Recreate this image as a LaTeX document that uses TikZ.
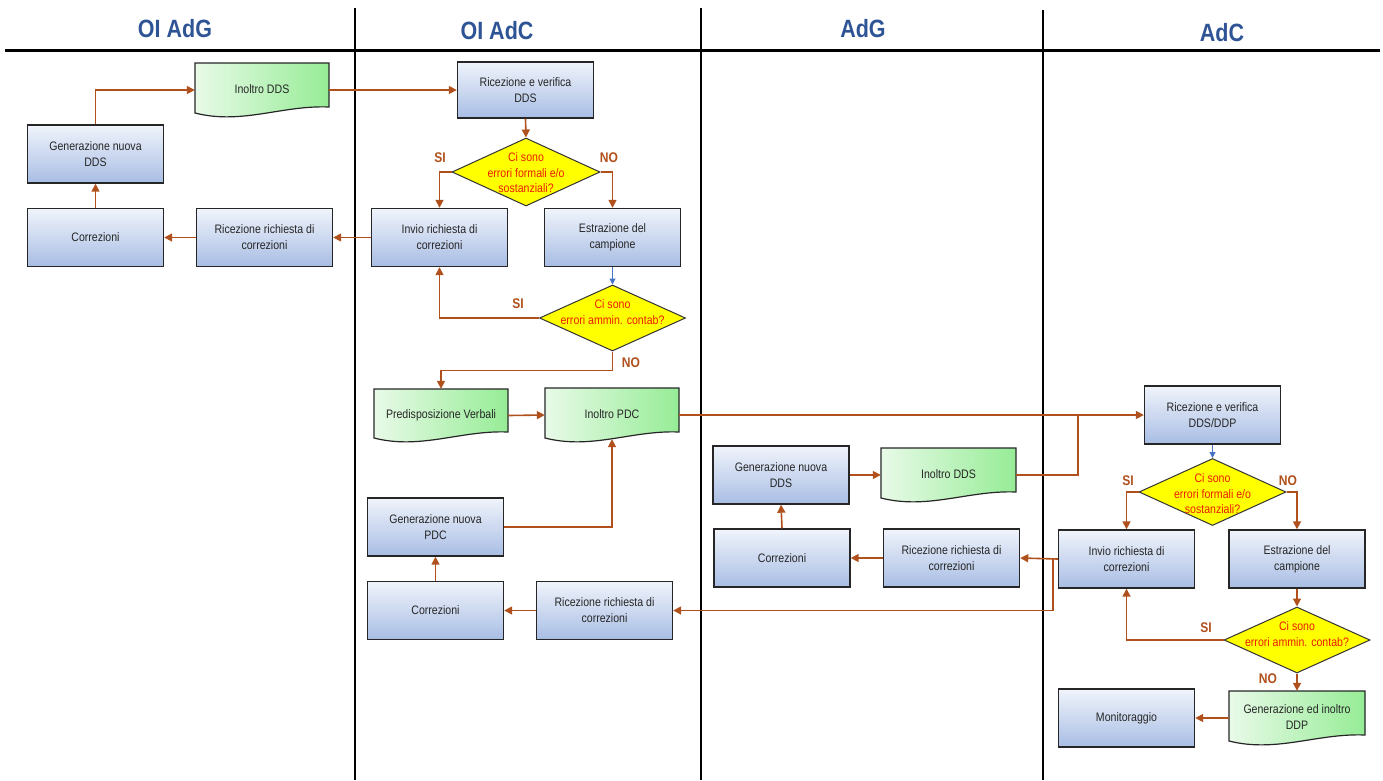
\documentclass[tikz,border=0pt]{standalone}
\usepackage{fontspec}
\setmainfont{Liberation Sans}[FakeStretch=0.86]
\usetikzlibrary{arrows.meta,shapes.geometric,calc}
\definecolor{conn}{RGB}{176,80,28}
\definecolor{ttl}{RGB}{47,84,150}
\definecolor{qtxt}{RGB}{235,30,0}
\definecolor{boxtop}{RGB}{240,244,251}
\definecolor{boxbot}{RGB}{168,189,228}
\definecolor{docl}{RGB}{232,250,232}
\definecolor{docr}{RGB}{150,236,150}
\definecolor{arrblue}{RGB}{68,114,196}
\definecolor{ylw}{RGB}{255,255,0}
\tikzset{
 lane/.style={draw=black, line width=2.2pt},
 hline/.style={draw=black, line width=3pt},
 ttl/.style={font=\fontsize{25}{30}\selectfont\bfseries, text=ttl},
 procbox/.style={rectangle, draw=black!85, line width=1.4pt, top color=boxtop, bottom color=boxbot,
   minimum width=136pt, minimum height=58pt, inner sep=0pt, align=center,
   font=\fontsize{12.3}{16}\selectfont, text=black!85},
 docfill/.style={draw=black!85, line width=1.2pt, left color=docl, right color=docr},
 docn/.style={rectangle, inner sep=0pt, align=center, font=\fontsize{12.3}{16}\selectfont, text=black!85},
 dia/.style={diamond, draw=black!80, line width=1pt, fill=ylw, inner sep=0pt},
 qtext/.style={align=center, font=\fontsize{12.3}{15.5}\selectfont, text=qtxt},
 yn/.style={font=\fontsize{14}{16}\selectfont\bfseries, text=conn},
 conn/.style={draw=conn, line width=1.6pt, -{Triangle[length=8pt,width=8pt]}},
 connl/.style={draw=conn, line width=1.6pt},
 connb/.style={draw=arrblue, line width=1pt, -{Triangle[length=6pt,width=6pt]}},
}
\newcommand\docnode[6]{%
 \path[docfill] (#2,#3) -- (#4,#3) -- (#4,#5) .. controls ({#4-0.35*(#4-#2)},{#5-2}) and ({#2+0.35*(#4-#2)},{#5+18}) .. (#2,{#5+6}) -- cycle;
 \node[docn, minimum width={(#4-#2)*1pt}, minimum height={(#5-#3+10)*1pt}] (#1) at ({(#2+#4)/2},{(#3+#5+10)/2})
   {\raisebox{5pt}{\begin{tabular}{@{}c@{}}#6\end{tabular}}};%
}
\begin{document}
\begin{tikzpicture}[x=1pt,y=-1pt]
\useasboundingbox (0,0) rectangle (1383,780);
% lanes
\draw[hline] (5,50) -- (1380,50);
\draw[lane] (355,8) -- (355,780);
\draw[lane] (701,8) -- (701,780);
\draw[lane] (1043,10) -- (1043,780);
\node[ttl] (h1) at (175,29) {OI AdG};
\node[ttl] (h2) at (497,31) {OI AdC};
\node[ttl] (h3) at (863,29) {AdG};
\node[ttl] (h4) at (1222,33) {AdC};
% OI AdG
\docnode{ino1}{195}{63}{329}{107}{Inoltro DDS}
\node[procbox] (gds1) at (95.5,154) {Generazione nuova\\DDS};
\node[procbox] (corr1) at (95.5,237.5) {Correzioni};
\node[procbox] (ric1) at (264.5,237.5) {Ricezione richiesta di\\correzioni};
% OI AdC
\node[procbox, minimum height=56pt] (rv1) at (525.5,90) {Ricezione e verifica\\DDS};
\node[dia, minimum width=148pt, minimum height=68pt] (q1) at (526,172) {};
\node[qtext] (q1t) at (526,173) {Ci sono\\errori formali e/o\\sostanziali?};
\node[procbox] (inv1) at (439.5,237.5) {Invio richiesta di\\correzioni};
\node[procbox] (est1) at (612.5,237.5) {Estrazione del\\campione};
\node[dia, minimum width=146pt, minimum height=66pt] (q2) at (612.5,318) {};
\node[qtext] (q2t) at (612.5,312) {Ci sono\\errori ammin. contab?};
\docnode{pv}{374}{389}{508}{432}{Predisposizione Verbali}
\docnode{ipdc}{545}{388}{679}{432}{Inoltro PDC}
\node[procbox] (gpdc) at (435.5,527) {Generazione nuova\\PDC};
\node[procbox] (corr2) at (435.5,610.5) {Correzioni};
\node[procbox] (ric2) at (604.5,610.5) {Ricezione richiesta di\\correzioni};
% AdG
\node[procbox] (gds2) at (781,475) {Generazione nuova\\DDS};
\docnode{ino2}{881}{448}{1016}{492}{Inoltro DDS}
\node[procbox] (corr3) at (782,558) {Correzioni};
\node[procbox] (ric3) at (951.5,558) {Ricezione richiesta di\\correzioni};
% AdC
\node[procbox] (rv2) at (1212.5,415) {Ricezione e verifica\\DDS/DDP};
\node[dia, minimum width=147pt, minimum height=67pt] (q3) at (1212.5,492) {};
\node[qtext] (q3t) at (1212.5,494) {Ci sono\\errori formali e/o\\sostanziali?};
\node[procbox] (inv2) at (1126.5,559) {Invio richiesta di\\correzioni};
\node[procbox] (est2) at (1297,559) {Estrazione del\\campione};
\node[dia, minimum width=146pt, minimum height=66pt] (q4) at (1297,640) {};
\node[qtext] (q4t) at (1297,634) {Ci sono\\errori ammin. contab?};
\docnode{gddp}{1229}{691}{1365}{735}{Generazione ed inoltro\\DDP}
\node[procbox] (mon) at (1126.5,718) {Monitoraggio};
% yes/no labels
\node[yn] (l1) at (440,158) {SI};
\node[yn] (l2) at (609,158) {NO};
\node[yn] (l3) at (518,304) {SI};
\node[yn] (l4) at (631,363) {NO};
\node[yn] (l5) at (1128,481) {SI};
\node[yn] (l6) at (1288,481) {NO};
\node[yn] (l7) at (1206,628) {SI};
\node[yn] (l8) at (1268,679) {NO};
% connectors OI AdG
\draw[conn] (gds1.north) |- (ino1.west);
\draw[conn] (ino1.east) -- (rv1.west);
\draw[conn] (corr1.north) -- (gds1.south);
\draw[conn] (ric1.west) -- (corr1.east);
% OI AdC
\draw[conn] (inv1.west) -- (ric1.east);
\draw[conn] (rv1.south) -- (q1.north);
\draw[conn] (q1.west) -| (inv1.north);
\draw[conn] (q1.east) -| (est1.north);
\draw[connb] (est1.south) -- (q2.north);
\draw[conn] (q2.west) -| (inv1.south);
\coordinate (k1) at ($(q2.south)+(0,19)$);
\draw[conn] (q2.south) -- (k1) -| (pv.north);
\draw[conn] (pv.east) -- (ipdc.west);
\draw[conn] (ipdc.east) -- (rv2.west);
\draw[conn] (gpdc.east) -| ($(ipdc.south)+(0,-3)$);
\draw[conn] (corr2.north) -- (gpdc.south);
\draw[conn] (ric2.west) -- (corr2.east);
% AdG
\coordinate (j1) at (1078,415);
\draw[connl] (ino2.east) -| (j1);
\draw[conn] (gds2.east) -- (ino2.west);
\draw[conn] (corr3.north) -- (gds2.south);
\draw[conn] (ric3.west) -- (corr3.east);
% AdC
\coordinate (j2) at (1053,559);
\draw[conn] (inv2.west) -- (ric3.east);
\draw[conn] (j2) |- (ric2.east);
\draw[connb] (rv2.south) -- (q3.north);
\draw[conn] (q3.west) -| (inv2.north);
\draw[conn] (q3.east) -| (est2.north);
\draw[conn] (est2.south) -- (q4.north);
\draw[conn] (q4.west) -| (inv2.south);
\draw[conn] (q4.south) -- (gddp.north);
\draw[conn] (gddp.west) -- (mon.east);
\end{tikzpicture}
\end{document}
